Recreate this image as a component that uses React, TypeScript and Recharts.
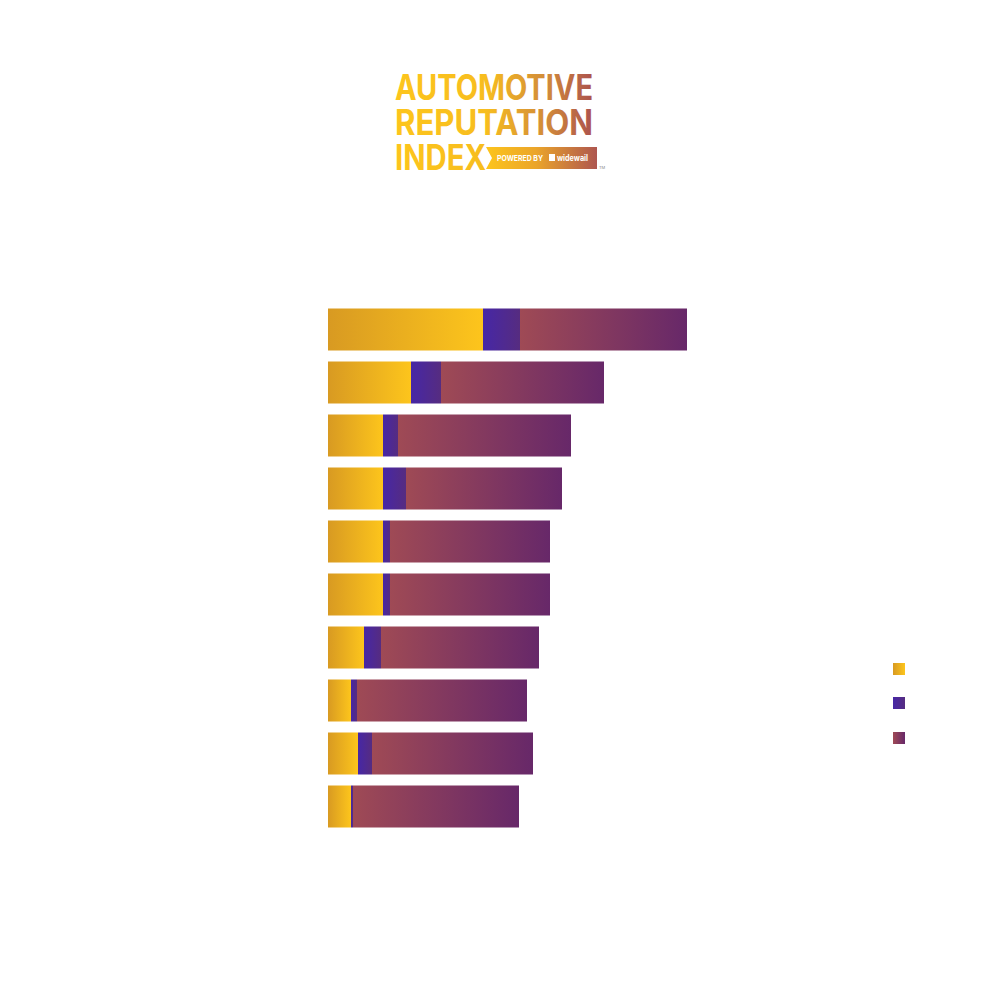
import { BarChart, Bar, XAxis, YAxis, Legend } from 'recharts';

// ranks are shown without visible labels in the reference
const ranks = ['1', '2', '3', '4', '5', '6', '7', '8', '9', '10'];
const positive = [155, 83, 55, 55, 55, 55, 36, 23, 30, 23];
const neutral = [37, 30, 15, 23, 7, 7, 17, 6, 14, 2];
const negative = [167, 163, 173, 156, 160, 160, 158, 170, 161, 166];

const seriesKeys = ['positive', 'neutral', 'negative'];
const seriesNames = ['Positive', 'Neutral', 'Negative'];

const data = ranks.map((rank, i) => ({
  rank,
  positive: positive[i],
  neutral: neutral[i],
  negative: negative[i],
}));

const GRADS: Record<string, [string, string]> = {
  positive: ['#d89a22', '#fdc51c'],
  neutral: ['#4627a6', '#562c80'],
  negative: ['#9f4a55', '#672869'],
};

const LegendSquares = ({ payload }: { payload?: any[] }) => {
  const items = [...(payload || [])].sort(
    (a: any, b: any) => seriesKeys.indexOf(a.dataKey) - seriesKeys.indexOf(b.dataKey),
  );
  return (
    <div>
      {items.map((entry: any, index: number) => {
        const g = GRADS[entry.dataKey] || ['#ccc', '#ccc'];
        return (
          <div
            key={`leg-${index}`}
            style={{
              width: 12,
              height: 12,
              marginBottom: index === 0 ? 22 : 23,
              background: `linear-gradient(to right, ${g[0]}, ${g[1]})`,
            }}
          />
        );
      })}
    </div>
  );
};

const Logo = () => (
  <svg
    width={1000}
    height={220}
    style={{ position: 'absolute', left: 0, top: 0, pointerEvents: 'none' }}
  >
    <defs>
      <linearGradient id="logoText" gradientUnits="userSpaceOnUse" x1="395" y1="0" x2="598" y2="0">
        <stop offset="0%" stopColor="#fdc51c" />
        <stop offset="45%" stopColor="#f7bd1f" />
        <stop offset="75%" stopColor="#d18a3a" />
        <stop offset="100%" stopColor="#a84c50" />
      </linearGradient>
      <linearGradient id="badge" gradientUnits="userSpaceOnUse" x1="485" y1="0" x2="598" y2="0">
        <stop offset="0%" stopColor="#fdc51c" />
        <stop offset="45%" stopColor="#eba52a" />
        <stop offset="100%" stopColor="#ad5550" />
      </linearGradient>
    </defs>
    <text
      fontFamily="Inter, 'Open Sans', sans-serif"
      fontWeight={700}
      fontSize={35}
      fill="url(#logoText)"
    >
      <tspan x={395} y={100} textLength={198} lengthAdjust="spacingAndGlyphs">AUTOMOTIVE</tspan>
      <tspan x={395} y={135} textLength={198} lengthAdjust="spacingAndGlyphs">REPUTATION</tspan>
      <tspan x={395} y={170} textLength={91} lengthAdjust="spacingAndGlyphs">INDEX</tspan>
    </text>
    <path d="M486 147 L597 147 L597 169 L486 169 L492 158 Z" fill="url(#badge)" />
    <rect x={549} y={154} width={6} height={7} fill="#ffffff" />
    <text fontFamily="Inter, 'Open Sans', sans-serif" fontWeight={700} fill="#ffffff">
      <tspan x={497} y={161} fontSize={8} textLength={46} lengthAdjust="spacingAndGlyphs">POWERED BY</tspan>
      <tspan x={557} y={161} fontSize={9} textLength={31} lengthAdjust="spacingAndGlyphs">widewail</tspan>
    </text>
    <text x={599} y={169} fontSize={4} fill="#888" fontFamily="Inter, sans-serif">TM</text>
  </svg>
);

export default function App() {
  return (
    <div style={{ position: 'absolute', left: 0, top: 0, width: 1000, height: 1008, background: '#fff' }}>
      <BarChart
        width={1000}
        height={1008}
        data={data}
        layout="vertical"
        margin={{ top: 302.5, right: 72, bottom: 175.5, left: 328 }}
        barSize={42}
      >
        <defs>
          {Object.keys(GRADS).map((key) => (
            <linearGradient key={key} id={`grad-${key}`} x1="0" y1="0" x2="1" y2="0">
              <stop offset="0%" stopColor={GRADS[key][0]} />
              <stop offset="100%" stopColor={GRADS[key][1]} />
            </linearGradient>
          ))}
        </defs>
        <XAxis type="number" domain={[0, 600]} hide />
        <YAxis type="category" dataKey="rank" hide width={0} />
        <Legend
          layout="vertical"
          align="center"
          verticalAlign="middle"
          content={<LegendSquares />}
          wrapperStyle={{ left: 893, top: 663, width: 12, height: 90 }}
        />
        <Bar dataKey="positive" name={seriesNames[0]} stackId="a" fill="url(#grad-positive)" isAnimationActive={false} />
        <Bar dataKey="neutral" name={seriesNames[1]} stackId="a" fill="url(#grad-neutral)" isAnimationActive={false} />
        <Bar dataKey="negative" name={seriesNames[2]} stackId="a" fill="url(#grad-negative)" isAnimationActive={false} />
      </BarChart>
      <Logo />
    </div>
  );
}
